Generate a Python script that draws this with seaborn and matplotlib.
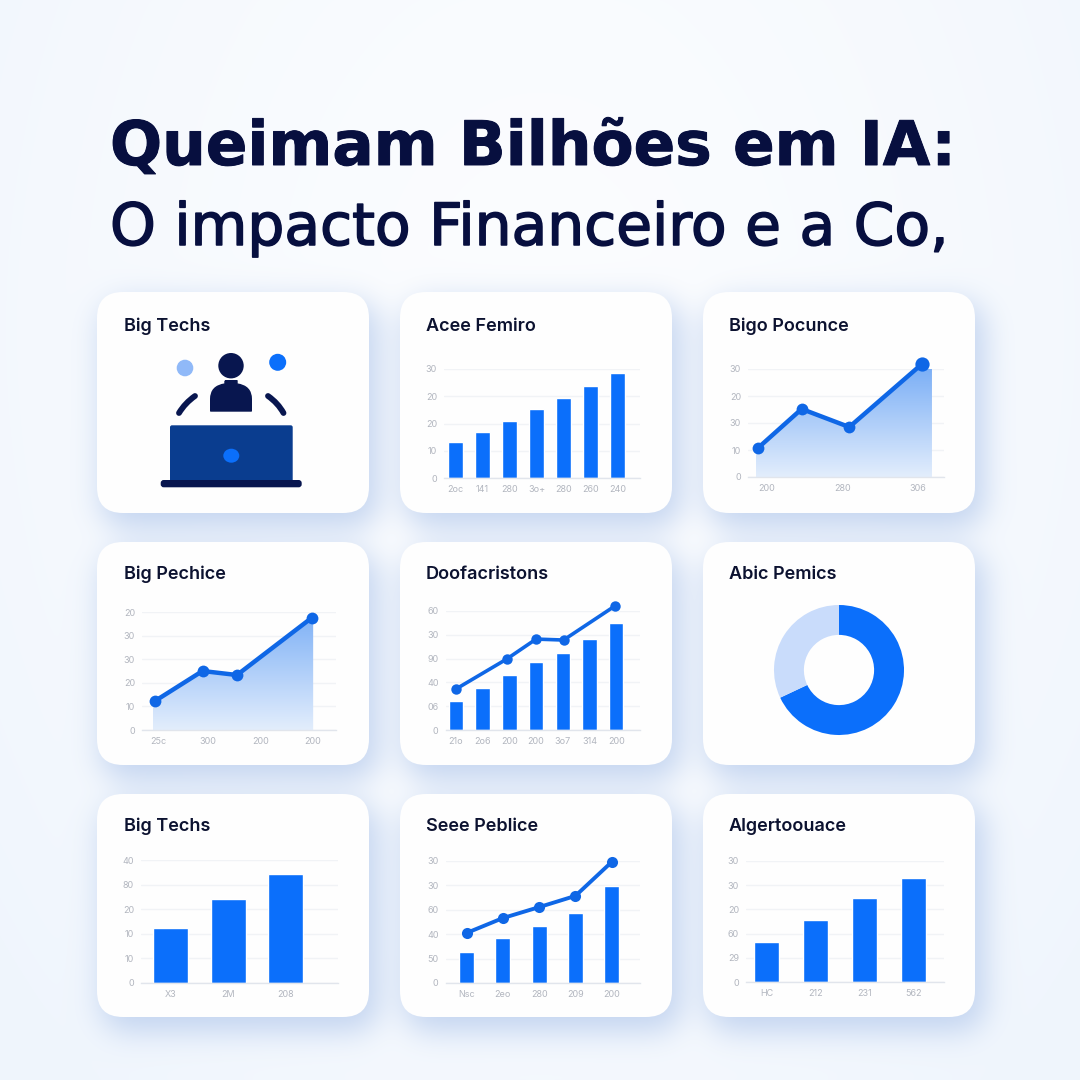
import numpy as np
import matplotlib
matplotlib.use("Agg")
import matplotlib.pyplot as plt
import matplotlib.patheffects as pe
from matplotlib.patches import FancyBboxPatch, Circle, Ellipse, PathPatch, Polygon
from matplotlib.path import Path
import seaborn as sns

# ---------- data ----------
main_title = "Queimam Bilhões em IA:"
sub_title = "O impacto Financeiro e a Co,"
card_titles = ["Big Techs", "Acee Femiro", "Bigo Pocunce",
               "Big Pechice", "Doofacristons", "Abic Pemics",
               "Big Techs", "Seee Peblice", "Algertoouace"]

acee_bars = [13.2, 16.9, 20.9, 25.3, 29.4, 33.8, 38.5]
acee_xlabels = ["2oc", "141", "280", "3o+", "280", "260", "240"]
acee_ylabels = ["0", "10", "20", "20", "30"]

bigo_x = [0, 0.8, 1.67, 3]
bigo_y = [10.7, 25.2, 18.5, 41.9]
bigo_fill_x = [-0.04, 0, 0.8, 1.67, 3, 3.18]
bigo_fill_y = [9.5, 10.7, 25.2, 18.5, 41.9, 40]
bigo_xticks = [0.16, 1.55, 2.93]
bigo_xlabels = ["200", "280", "306"]
bigo_ylabels = ["0", "10", "30", "20", "30"]

pech_x = [0, 0.91, 1.57, 3]
pech_y = [12.3, 25, 23.3, 47.5]
pech_fill_x = [-0.04, 0, 0.91, 1.57, 3, 3.03]
pech_fill_y = [11.5, 12.3, 25, 23.3, 47.5, 47]
pech_xticks = [0.06, 1.02, 2.02, 3.02]
pech_xlabels = ["25c", "300", "200", "200"]
pech_ylabels = ["0", "10", "20", "30", "30", "20"]

doof_bars = [12.2, 17.6, 23.1, 28.6, 32.4, 38.2, 45]
doof_line_x = [0, 1.9, 3.0, 4.03, 5.95]
doof_line_y = [17.2, 29.8, 38.2, 37.8, 52.1]
doof_xlabels = ["21o", "2o6", "200", "200", "3o7", "314", "200"]
doof_ylabels = ["0", "06", "40", "90", "30", "60"]

abic_share = [68, 32]

tech_bars = [22.4, 34.1, 44.3]
tech_xlabels = ["X3", "2M", "208"]
tech_ylabels = ["0", "10", "10", "20", "80", "40"]

seee_bars = [12.7, 18.4, 23.4, 28.7, 39.8]
seee_line = [20.5, 26.6, 31.1, 35.7, 49.6]
seee_xlabels = ["Nsc", "2eo", "280", "209", "200"]
seee_ylabels = ["0", "50", "40", "60", "30", "30"]

alge_bars = [16.7, 25.6, 34.8, 43]
alge_xlabels = ["HC", "212", "231", "562"]
alge_ylabels = ["0", "29", "60", "20", "30", "30"]

# ---------- style ----------
sns.set_theme(style="white")
FONT = "Inter"
plt.rcParams["font.family"] = [FONT, "DejaVu Sans"]
BLUE = "#0b6ffb"
LINE = "#0f67e6"
NAVY = "#070f3f"
GRID = "#f1f3f6"
BASE = "#e1e5ec"
TICK = "#b2b6bf"
W = 1080

fig = plt.figure(figsize=(10.8, 10.8), dpi=100)
bg = fig.add_axes([0, 0, 1, 1], zorder=0)
bg.set_xlim(0, W)
bg.set_ylim(W, 0)
bg.axis("off")

# background with soft card shadows
cards = [(97, 292, 272, 221), (400, 292, 272, 221), (703, 292, 272, 221),
         (97, 542, 272, 223), (400, 542, 272, 223), (703, 542, 272, 223),
         (97, 794, 272, 223), (400, 794, 272, 223), (703, 794, 272, 223)]
yy, xx = np.mgrid[0:W, 0:W]


def rrect_mask(x, y, w, h, r):
    qx = np.abs(xx + .5 - (x + w / 2)) - (w / 2 - r)
    qy = np.abs(yy + .5 - (y + h / 2)) - (h / 2 - r)
    d = np.hypot(np.maximum(qx, 0), np.maximum(qy, 0)) + np.minimum(np.maximum(qx, qy), 0) - r
    return (d < 0).astype(float)


shadow = np.zeros((W, W))
for (x, y, w, h) in cards:
    shadow = np.maximum(shadow, rrect_mask(x + 4, y + 9, w + 6, h + 6, 26))
f = np.fft.fftfreq(W)
sigma = 15.0
kernel = np.exp(-2 * (np.pi * sigma) ** 2 * (f[:, None] ** 2 + f[None, :] ** 2))
shadow = np.real(np.fft.ifft2(np.fft.fft2(shadow) * kernel)).clip(0, 1)

top = np.array([0.985, 0.99, 0.998])
bot = np.array([0.94, 0.963, 0.992])
r2 = (np.hypot((xx - 540) / 540, (yy - 330) / 760) / 1.3).clip(0, 1)[..., None] ** 1.6
base = top * (1 - r2) + bot * r2
shade = np.array([0.72, 0.80, 0.93])
img = base * (1 - shadow[..., None] * .8) + shade * shadow[..., None] * .8
bg.imshow(img, extent=(0, W, W, 0), aspect="auto", zorder=0, interpolation="bilinear")

for (x, y, w, h) in cards:
    bg.add_patch(FancyBboxPatch((x, y), w, h, boxstyle="round,pad=0,rounding_size=26",
                                fc="#fefefe", ec="none", zorder=1))

# titles


def fit_text(x, y, s, target, weight, size, family, stroke=0):
    t = bg.text(x, y, s, fontsize=size, fontweight=weight, family=family, color=NAVY,
                va="baseline", ha="left", zorder=3)
    e = t.get_window_extent(fig.canvas.get_renderer())
    t.set_fontsize(size * target / e.width)
    if stroke:
        t.set_path_effects([pe.withStroke(linewidth=stroke, foreground=NAVY)])
    return t


fit_text(110, 165, main_title, 846, "bold", 48, "DejaVu Sans", stroke=.7)
fit_text(110, 245, sub_title, 838, "normal", 44, "DejaVu Sans", stroke=1.1)

title_pos = [(124, 330.7), (426, 330.7), (729, 330.7), (124, 579.3), (426, 579.3), (729, 579.3),
             (124, 830.7), (426, 830.7), (729, 830.7)]
for (x, y), s in zip(title_pos, card_titles):
    bg.text(x, y, s, fontsize=13, fontweight="semibold", color="#0c1230", va="baseline", ha="left", zorder=3)

# laptop / person icon
DEEP = "#08164f"
bg.add_patch(Circle((231, 365.7), 12.7, fc=DEEP, ec="none", zorder=3))
torso = [(225, 380.7), (237, 380.7), (237, 384), (251.3, 386), (251.3, 399), (251.3, 411), (251.3, 411),
         (210.7, 411), (210.7, 411), (210.7, 399), (210.7, 386), (225, 384), (225, 380.7)]
torso_codes = [Path.MOVETO, Path.LINETO, Path.LINETO, Path.CURVE3, Path.CURVE3, Path.LINETO, Path.LINETO,
               Path.LINETO, Path.LINETO, Path.LINETO, Path.CURVE3, Path.CURVE3, Path.LINETO]
bg.add_patch(PathPatch(Path(torso, torso_codes), fc=DEEP, ec=DEEP, lw=1, joinstyle="round", zorder=3))
bg.add_patch(Circle((185, 368), 8.3, fc="#90b9f8", ec="none", zorder=3))
bg.add_patch(Circle((277.7, 362.3), 8.5, fc=BLUE, ec="none", zorder=3))
for p0, pc, p1 in [((179, 413), (185, 403), (195, 396)), ((268, 396), (278, 403), (283.5, 413))]:
    bg.add_patch(PathPatch(Path([p0, pc, p1], [Path.MOVETO, Path.CURVE3, Path.CURVE3]),
                           fc="none", ec=DEEP, lw=4.2, capstyle="round", zorder=3))
bg.add_patch(FancyBboxPatch((170, 425.3), 122.7, 57, boxstyle="round,pad=0,rounding_size=2", fc="#0a3d8f", ec="none", zorder=3))
bg.add_patch(FancyBboxPatch((160.7, 480), 141, 7.3, boxstyle="round,pad=0,rounding_size=3", fc=DEEP, ec="none", zorder=4))
bg.add_patch(Ellipse((231.3, 455.7), 16, 14, fc=BLUE, ec="none", zorder=4))


def chart_axes(x0, x1, ytop, ybot):
    ax = fig.add_axes([x0 / W, 1 - ybot / W, (x1 - x0) / W, (ybot - ytop) / W], zorder=2)
    ax.patch.set_alpha(0)
    return ax


def finish(ax, xlim, ymax, ylabels, xticks, xlabels, tickfs=6.5):
    ax.set_xlim(*xlim)
    ax.set_ylim(0, ymax)
    ax.set_yticks(np.arange(len(ylabels)) * 10)
    ax.set_yticklabels(ylabels)
    ax.set_xticks(xticks)
    ax.set_xticklabels(xlabels)
    ax.set_xlabel("")
    ax.set_ylabel("")
    ax.tick_params(axis="both", length=0, labelsize=tickfs, labelcolor=TICK)
    ax.tick_params(axis="y", pad=5)
    ax.tick_params(axis="x", pad=5)
    for s in ("top", "right", "left"):
        ax.spines[s].set_visible(False)
    ax.spines["bottom"].set_color(BASE)
    ax.spines["bottom"].set_linewidth(1)
    ax.grid(axis="y", color=GRID, lw=1)
    ax.grid(axis="x", visible=False)
    ax.set_axisbelow(True)


def bars(ax, values, width):
    sns.barplot(x=np.arange(len(values)), y=values, color=BLUE, saturation=1, width=width, ax=ax, zorder=2)


def line(ax, x, y, lw, ms):
    sns.lineplot(x=x, y=y, sort=False, estimator=None, color=LINE, lw=lw, marker="o", markersize=ms,
                 markeredgecolor=LINE, markeredgewidth=0, ax=ax, zorder=4, clip_on=False)


def area(ax, fx, fy, ymax):
    grad = np.ones((64, 2, 4))
    c0 = np.array(matplotlib.colors.to_rgb("#7db0f6"))
    c1 = np.array(matplotlib.colors.to_rgb("#e2edfc"))
    t = np.linspace(0, 1, 64)[:, None]
    grad[..., :3] = (c0 * (1 - t) + c1 * t)[:, None, :]
    im = ax.imshow(grad, extent=(min(fx), max(fx), 0, ymax), aspect="auto", zorder=1)
    poly = Polygon(list(zip(fx, fy)) + [(fx[-1], 0), (fx[0], 0)], closed=True, transform=ax.transData)
    im.set_clip_path(poly)


# Acee Femiro
ax = chart_axes(444, 640, 369, 478)
bars(ax, acee_bars, .54)
finish(ax, (-.43, 6.83), 40, acee_ylabels, np.arange(7), acee_xlabels)

# Bigo Pocunce
ax = chart_axes(748, 944, 369, 477)
area(ax, bigo_fill_x, bigo_fill_y, 40)
line(ax, bigo_x, bigo_y, 3.2, 8.5)
sns.scatterplot(x=bigo_x[-1:], y=bigo_y[-1:], color=LINE, s=105, linewidth=0, ax=ax, zorder=5, clip_on=False)
finish(ax, (-.18, 3.40), 40, bigo_ylabels, bigo_xticks, bigo_xlabels)

# Big Pechice
ax = chart_axes(142, 335.6, 612, 730)
area(ax, pech_fill_x, pech_fill_y, 50)
line(ax, pech_x, pech_y, 3.2, 8.5)
finish(ax, (-.25, 3.46), 50, pech_ylabels, pech_xticks, pech_xlabels)

# Doofacristons
ax = chart_axes(445.5, 640, 611, 730)
bars(ax, doof_bars, .54)
line(ax, doof_line_x, doof_line_y, 2.6, 7.5)
finish(ax, (-.39, 6.89), 50, doof_ylabels, np.arange(7), doof_xlabels)

# Abic Pemics donut
ax = fig.add_axes([(839 - 65) / W, 1 - (670 + 65) / W, 130 / W, 130 / W], zorder=2)
ax.pie(abic_share, colors=[BLUE, "#c9dcfb"], startangle=90, counterclock=False, radius=1,
       wedgeprops=dict(width=.46, linewidth=0))
ax.set_xlim(-1, 1)
ax.set_ylim(-1, 1)

# Big Techs bars
ax = chart_axes(141, 337.5, 860, 983)
bars(ax, tech_bars, .607)
finish(ax, (-.52, 2.90), 50, tech_ylabels, np.arange(3), tech_xlabels)

# Seee Peblice
ax = chart_axes(445.5, 640, 861, 983)
bars(ax, seee_bars, .41)
line(ax, np.arange(5), seee_line, 2.8, 8)
finish(ax, (-.58, 4.78), 50, seee_ylabels, np.arange(5), seee_xlabels)

# Algertoouace
ax = chart_axes(746, 944, 861, 982)
bars(ax, alge_bars, .51)
finish(ax, (-.425, 3.62), 50, alge_ylabels, np.arange(4), alge_xlabels)

fig.savefig("out.png", dpi=100)
